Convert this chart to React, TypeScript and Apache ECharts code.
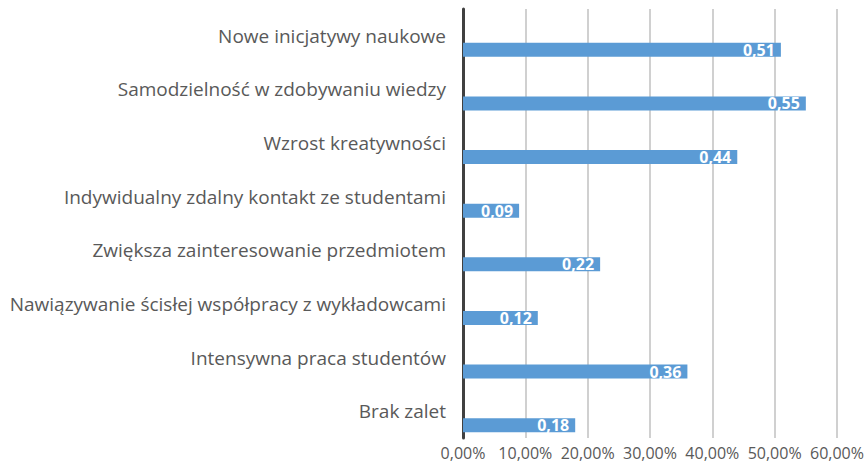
import React, { useEffect, useRef } from "react";
import * as echarts from "echarts";

const categories = [
  "Nowe inicjatywy naukowe",
  "Samodzielność w zdobywaniu wiedzy",
  "Wzrost kreatywności",
  "Indywidualny zdalny kontakt ze studentami",
  "Zwiększa zainteresowanie przedmiotem",
  "Nawiązywanie ścisłej współpracy z wykładowcami",
  "Intensywna praca studentów",
  "Brak zalet",
];
const values = [0.51, 0.55, 0.44, 0.09, 0.22, 0.12, 0.36, 0.18];
const axisMax = 0.6;
const axisInterval = 0.1;

export default function App() {
  const ref = useRef<HTMLDivElement>(null);
  useEffect(() => {
    if (!ref.current) return;
    const chart = echarts.init(ref.current, null, { renderer: "svg" });
    chart.setOption({
      animation: false,
      backgroundColor: "#ffffff",
      grid: { left: 463, right: 31, top: 9, bottom: 28, containLabel: false },
      xAxis: {
        type: "value",
        min: 0,
        max: axisMax,
        interval: axisInterval,
        axisLine: { show: false },
        axisTick: { show: false },
        splitLine: { show: true, lineStyle: { color: "#D0D0D0", width: 2 } },
        axisLabel: {
          color: "#595959",
          fontFamily: "Open Sans",
          fontSize: 16,
          lineHeight: 16,
          margin: 7,
          formatter: (v: number) => (v * 100).toFixed(2).replace(".", ",") + "%",
        },
      },
      yAxis: {
        type: "category",
        inverse: true,
        data: categories,
        axisLine: { show: true, lineStyle: { color: "#404040", width: 3 } },
        axisTick: { show: false },
        axisLabel: {
          color: "#595959",
          fontFamily: "Open Sans",
          fontSize: 19,
          margin: 17,
        },
      },
      series: [
        {
          type: "bar",
          data: values.map(() => 0),
          barWidth: 14,
          barGap: "100%",
          itemStyle: { color: "transparent" },
          silent: true,
        },
        {
          type: "bar",
          data: values,
          barWidth: 14,
          barGap: "100%",
          itemStyle: { color: "#5B9BD5" },
          label: {
            show: true,
            position: "insideRight",
            distance: 6,
            color: "#ffffff",
            fontWeight: "bold",
            fontFamily: "Open Sans",
            fontSize: 16,
            formatter: (p: any) => p.value.toFixed(2).replace(".", ","),
          },
        },
      ],
    });
    return () => chart.dispose();
  }, []);
  return (
    <div
      ref={ref}
      style={{ position: "fixed", left: 0, top: 0, width: 868, height: 466 }}
    />
  );
}
